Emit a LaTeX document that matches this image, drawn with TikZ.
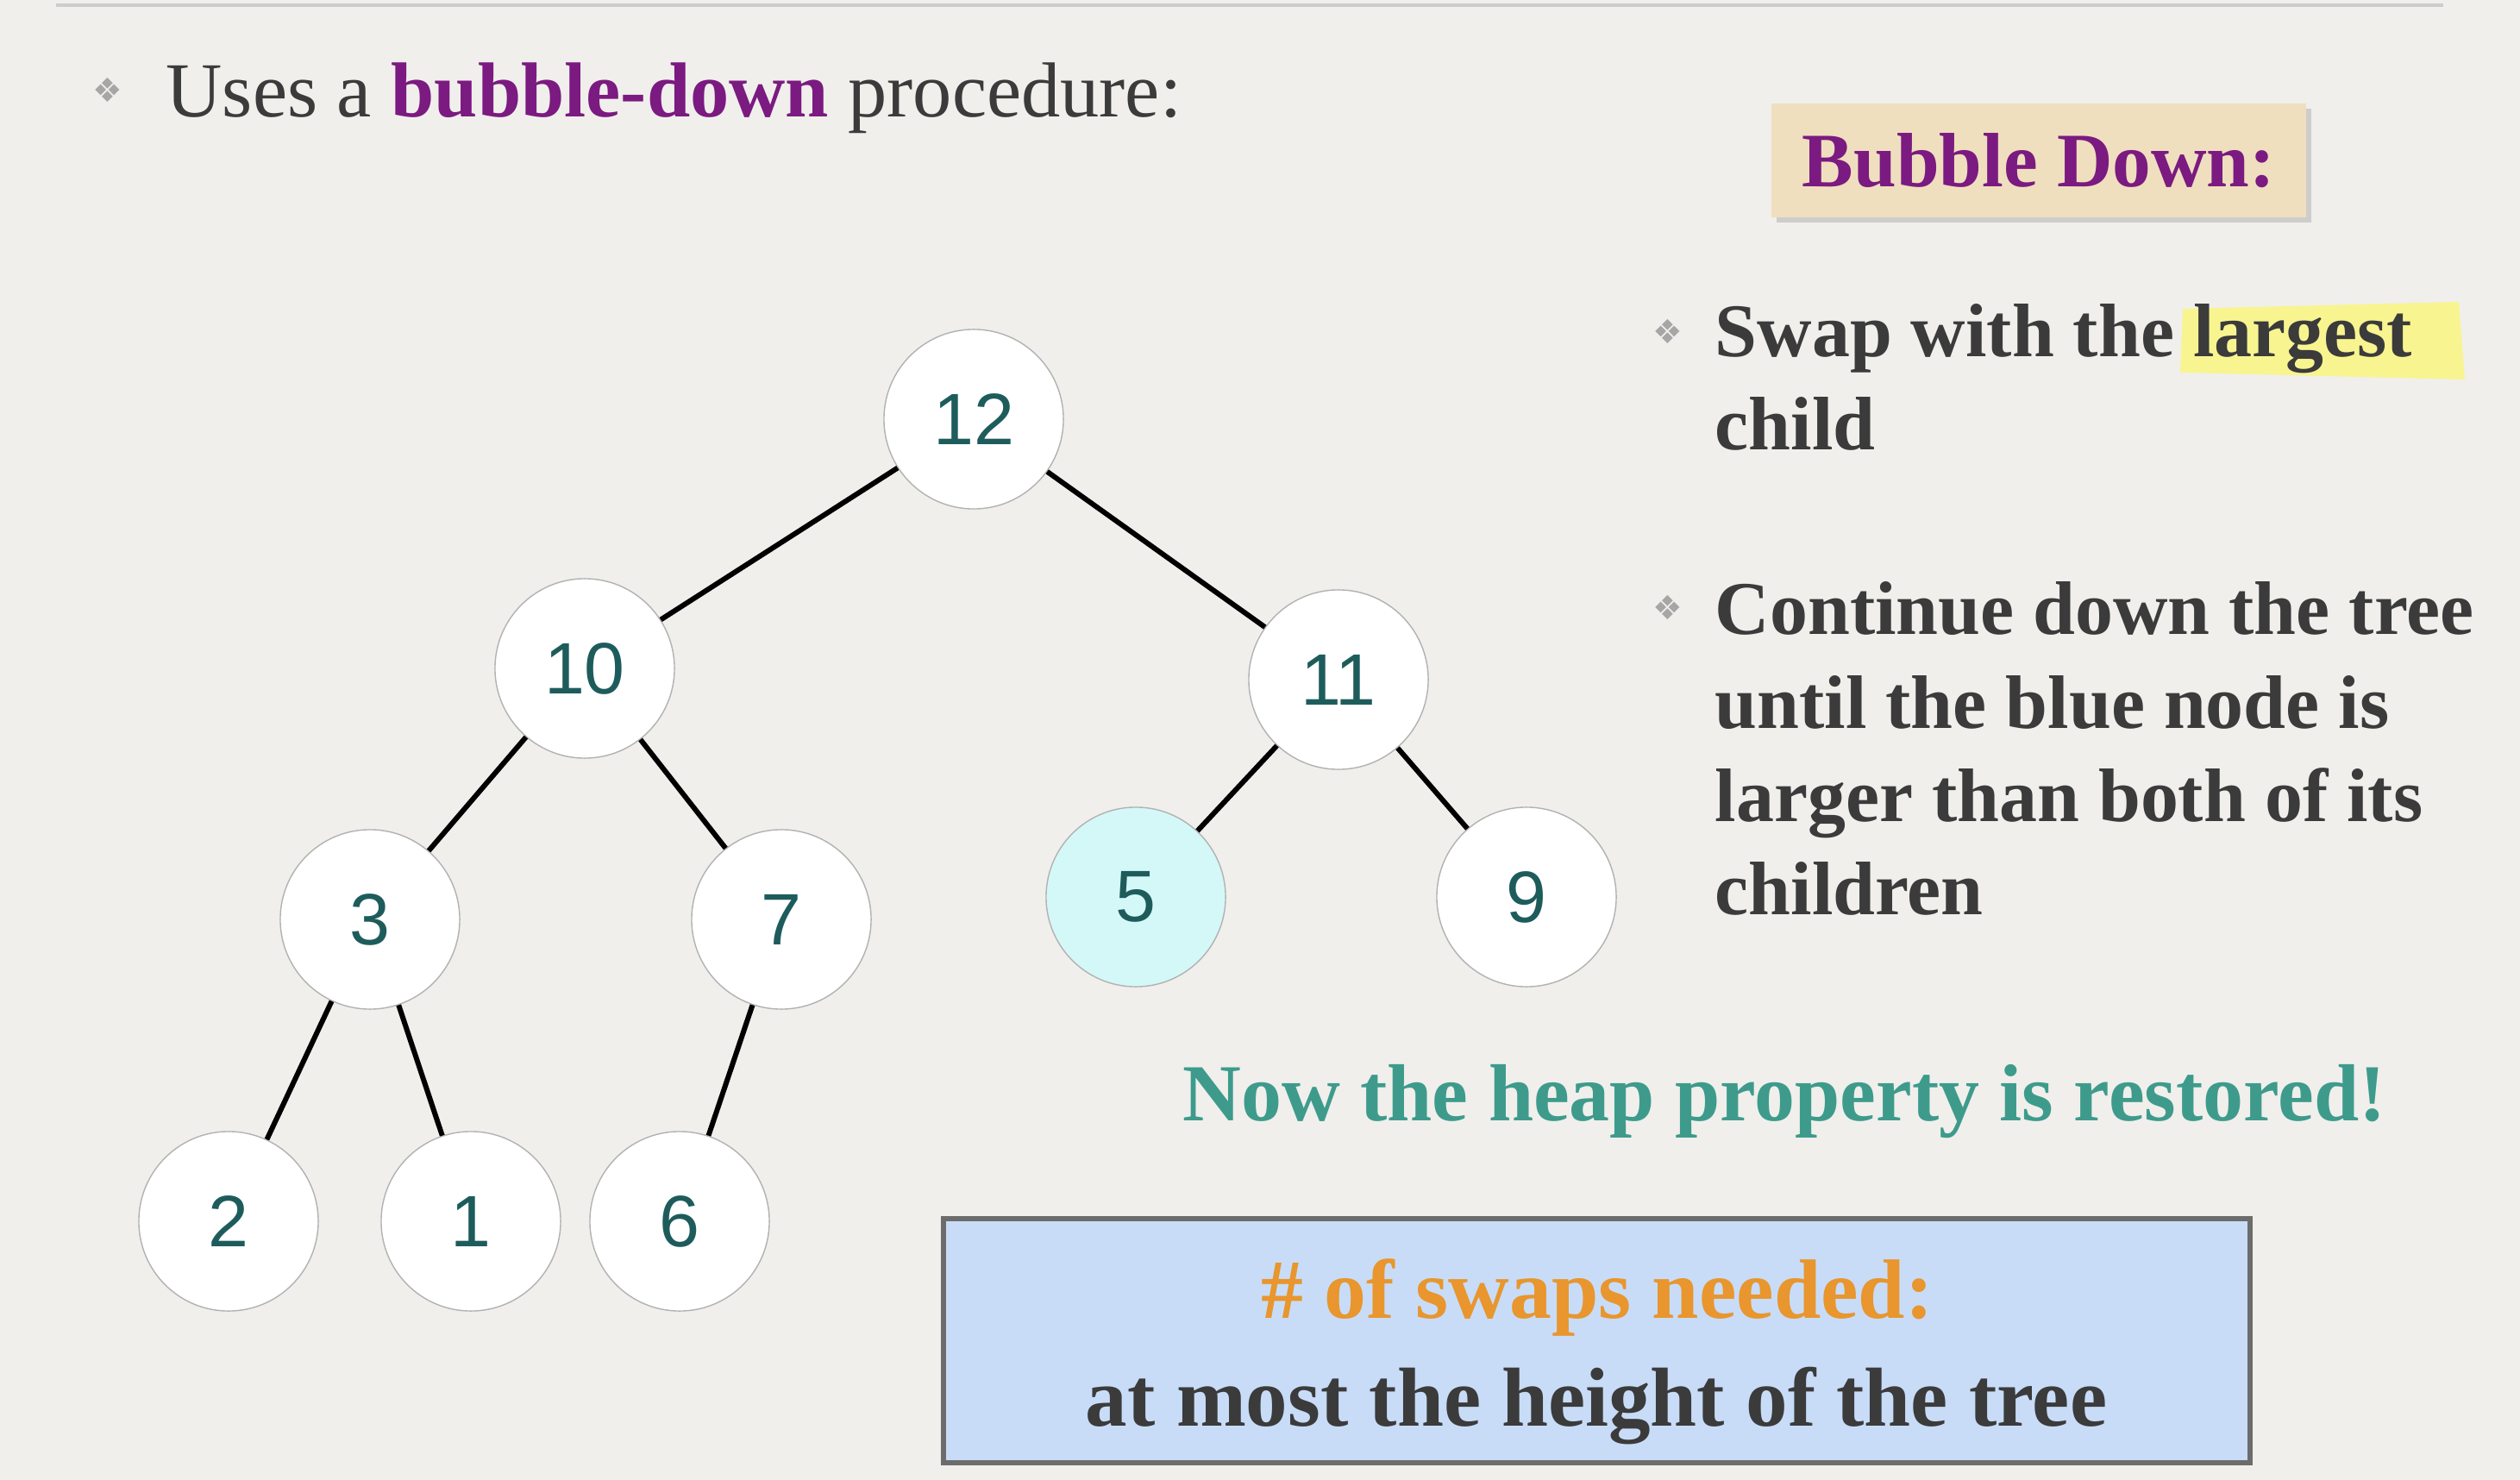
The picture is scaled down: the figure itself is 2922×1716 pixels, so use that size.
\documentclass[tikz,border=0pt]{standalone}
\usepackage{fontspec}
\setmainfont{Liberation Serif}
\newfontfamily\numfont{Liberation Sans}
\newfontfamily\symfont{DejaVu Sans}
\usetikzlibrary{shadows}

\definecolor{bgpaper}{HTML}{F0EFEC}
\definecolor{textdark}{HTML}{3B3B3B}
\definecolor{bdpurple}{HTML}{7B1A80}
\definecolor{heapteal}{HTML}{3E9B8C}
\definecolor{swaporange}{HTML}{E8962D}
\definecolor{boxblue}{HTML}{C8DCF8}
\definecolor{boxbeige}{HTML}{EFDFBF}
\definecolor{numteal}{HTML}{1E5C5C}
\definecolor{bluenode}{HTML}{D4F8F8}
\definecolor{marker}{HTML}{F8F590}

\begin{document}
\begin{tikzpicture}[x=0.01cm, y=-0.01cm,
    heapnode/.style={circle, draw=gray!60, thin, fill=white, minimum size=2.08cm,
        inner sep=0pt, text=numteal, font=\numfont\fontsize{24}{24}\selectfont},
    edge/.style={line width=1.7pt, black},
    bullet/.style={text=gray!70, font=\symfont\fontsize{11}{11}\selectfont, inner sep=0pt},
    line/.style={anchor=base west, inner sep=0pt, text=textdark, font=\fontsize{25}{30}\selectfont\bfseries}]

    % paper
    \useasboundingbox (0,0) rectangle (2922,1716);
    \fill[bgpaper] (0,0) rectangle (2922,1716);
    \draw[gray!40, line width=1pt] (65,6) -- (2833,6);

    % heading
    \node[bullet] (b1) at (125,104) {❖};
    \node[anchor=base west, inner sep=0pt, text=textdark, font=\fontsize{25.7}{30}\selectfont] (head) at (192,136)
        {Uses a \textbf{\color{bdpurple}bubble-down} procedure:};

    % box on the right
    \node[fill=boxbeige, drop shadow={opacity=.3, shadow xshift=.6mm, shadow yshift=-.6mm},
        minimum width=6.19cm, minimum height=1.32cm, text=bdpurple,
        font=\fontsize{25.4}{30}\selectfont\bfseries] (title) at (2364,186) {Bubble Down:};

    % bullets
    \fill[marker] (2531,358) -- (2851,350) -- (2858,440) -- (2528,432) -- cycle;
    \node[bullet] (b2) at (1934,384) {❖};
    \node[line] (s1) at (1988,414) {Swap with the largest};
    \node[line] (s2) at (1988,522) {child};
    \node[bullet] (b3) at (1934,704) {❖};
    \node[line] (c1) at (1988,736) {Continue down the tree};
    \node[line] (c2) at (1988,844) {until the blue node is};
    \node[line] (c3) at (1988,952) {larger than both of its};
    \node[line] (c4) at (1988,1060) {children};

    % the heap
    \node[heapnode] (n12) at (1129,486) {12};
    \node[heapnode] (n10) at (678,775) {10};
    \node[heapnode] (n11) at (1552,788) {11};
    \node[heapnode] (n3) at (429,1066) {3};
    \node[heapnode] (n7) at (906,1066) {7};
    \node[heapnode, fill=bluenode] (n5) at (1317,1040) {5};
    \node[heapnode] (n9) at (1770,1040) {9};
    \node[heapnode] (n2) at (265,1416) {2};
    \node[heapnode] (n1) at (546,1416) {1};
    \node[heapnode] (n6) at (788,1416) {6};

    \draw[edge] (n12) -- (n10);
    \draw[edge] (n12) -- (n11);
    \draw[edge] (n10) -- (n3);
    \draw[edge] (n10) -- (n7);
    \draw[edge] (n11) -- (n5);
    \draw[edge] (n11) -- (n9);
    \draw[edge] (n3) -- (n2);
    \draw[edge] (n3) -- (n1);
    \draw[edge] (n7) -- (n6);

    % result
    \node[anchor=base, inner sep=0pt, text=heapteal, font=\fontsize{26.7}{30}\selectfont\bfseries]
        (done) at (2069,1299) {Now the heap property is restored!};

    \draw[fill=boxblue, draw=gray!85!black, line width=1.6pt] (1094,1413) rectangle (2609,1696);
    \node[anchor=base, inner sep=0pt, text=swaporange, font=\fontsize{27.8}{30}\selectfont\bfseries]
        (swaps) at (1852,1528) {\# of swaps needed:};
    \node[anchor=base, inner sep=0pt, text=textdark, font=\fontsize{27.6}{30}\selectfont\bfseries]
        (most) at (1851,1653) {at most the height of the tree};

\end{tikzpicture}
\end{document}
